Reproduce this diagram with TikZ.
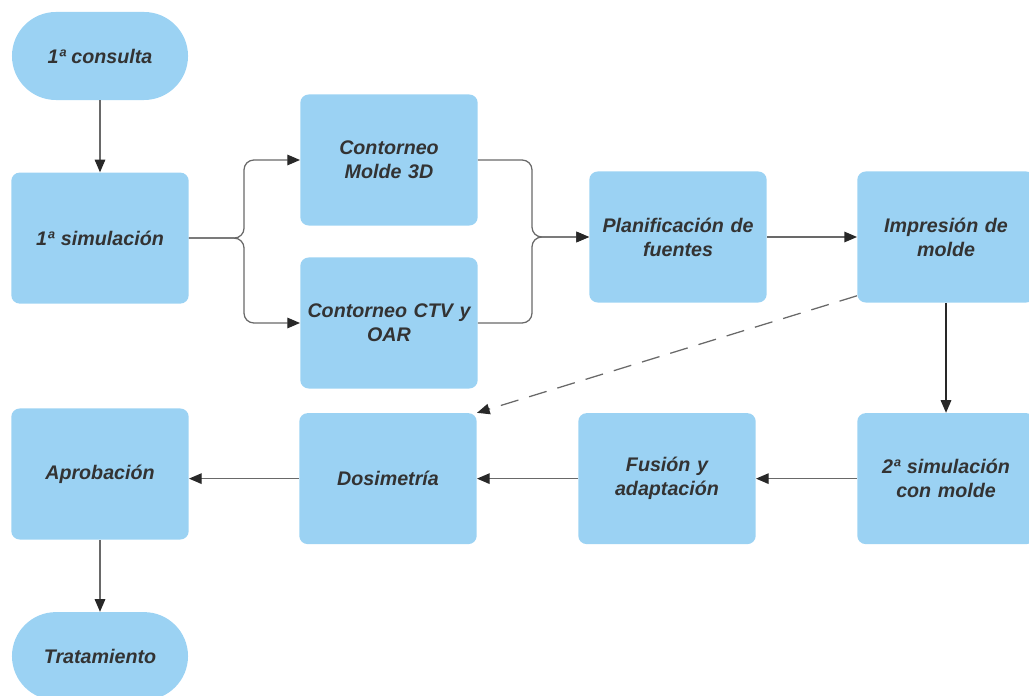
\documentclass[tikz,border=0pt]{standalone}
\usepackage{fontspec}
\setmainfont{Liberation Sans}
\usepackage{tikz}
\usetikzlibrary{arrows.meta, positioning, calc}
\definecolor{boxblue}{RGB}{155,210,243}
\definecolor{txtgray}{RGB}{51,51,51}
\definecolor{linegray}{RGB}{105,105,105}
\definecolor{tipgray}{RGB}{40,40,40}
\tikzset{
  stepbox/.style={rectangle, fill=boxblue, rounded corners=6pt, minimum width=4.425cm, minimum height=3.275cm, text width=4.2cm, align=center, text=txtgray, font=\fontsize{14}{17}\selectfont\bfseries\itshape},
  termbox/.style={rectangle, fill=boxblue, rounded corners=1.1cm, minimum width=4.4cm, minimum height=2.2cm, align=center, text=txtgray, font=\fontsize{14}{17}\selectfont\bfseries\itshape},
  arr/.style={-{Triangle[length=9pt, width=7.5pt, color=tipgray]}, draw=linegray, line width=0.9pt},
  darr/.style={arr, dash pattern=on 13pt off 8pt},
}

\begin{document}
\begin{tikzpicture}[x=0.025cm, y=-0.025cm]
  \useasboundingbox (0,0) rectangle (1029,695);

  % Top row and contouring branch
  \node[termbox] (cons) at (100,56) {1ª consulta};
  \node[stepbox, below=1.8cm of cons] (sim) {1ª simulación};
  \node[stepbox] (molde) at (389,160) {Contorneo\\Molde 3D};
  \node[stepbox] (ctv) at (389,323) {Contorneo CTV y\\OAR};
  \node[stepbox] (plan) at (678,237) {Planificación de\\fuentes};
  \node[stepbox, right=2.25cm of plan] (imp) {Impresión de\\molde};

  % Bottom row, right to left
  \node[stepbox, below=2.75cm of imp] (sim2) {2ª simulación\\con molde};
  \node[stepbox, left=2.525cm of sim2] (fus) {Fusión y\\adaptación};
  \node[stepbox, left=2.525cm of fus] (dos) {Dosimetría};
  \node[stepbox] (apr) at (100,474) {Aprobación};
  \node[termbox, below=1.8cm of apr] (trat) {Tratamiento};

  \coordinate (split) at ($(sim.east)+(1.375cm,0)$);
  \coordinate (join) at ($(plan.west)+(-1.425cm,0)$);

  \draw[arr] (cons) -- (sim);
  \draw[arr, rounded corners=7pt] (sim.east) -- (split) |- (molde.west);
  \draw[arr, rounded corners=7pt] (sim.east) -- (split) |- (ctv.west);
  \draw[arr, rounded corners=7pt] (molde.east) -| (join) -- (plan.west);
  \draw[arr, rounded corners=7pt] (ctv.east) -| (join) -- (plan.west);
  \draw[arr] (plan) -- (imp);
  \draw[arr, draw=tipgray, line width=1pt] (imp) -- (sim2);
  \draw[darr] ([yshift=5pt]imp.south west) -- (dos.north east);
  \draw[arr] (sim2) -- (fus);
  \draw[arr] (fus) -- (dos);
  \draw[arr] (dos.west) -- (dos.west -| apr.east);
  \draw[arr] (apr) -- (trat);
\end{tikzpicture}
\end{document}
